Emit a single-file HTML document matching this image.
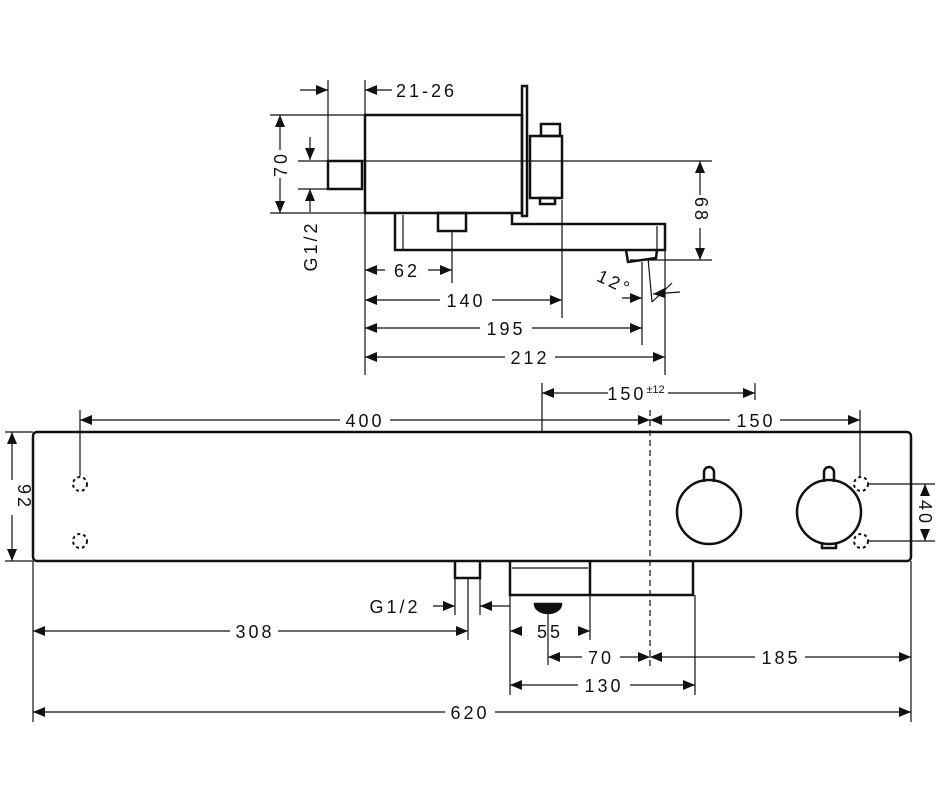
<!DOCTYPE html>
<html><head><meta charset="utf-8"><style>
html,body{margin:0;padding:0;background:#fff;}
svg{display:block;}
text{font-family:"Liberation Sans",sans-serif;font-size:18px;fill:#111;letter-spacing:3px;}
</style></head><body>
<svg width="938" height="800" viewBox="0 0 938 800" xmlns="http://www.w3.org/2000/svg">
<defs>
<marker id="a" viewBox="0 0 12 10" refX="12" refY="5" markerWidth="12" markerHeight="10" markerUnits="userSpaceOnUse" orient="auto-start-reverse"><path d="M0,0L12,5L0,10z" fill="#111"/></marker>
</defs>
<g stroke="#111" fill="none">
<g stroke-width="2.5">
<rect x="365" y="115" width="157" height="98"/>
<rect x="522" y="86" width="5" height="130"/>
<rect x="328" y="161" width="34" height="28"/>
<rect x="530" y="136" width="32" height="62"/>
<rect x="541" y="124" width="19" height="12"/>
<rect x="540" y="198" width="15" height="6"/>
<path d="M395,213 V250 H665 V224 H512 V213"/>
<rect x="438" y="213" width="28" height="18"/>
<path d="M626,250 L628,262 L656,258 L657,250"/>
</g>
<g stroke-width="1.2">
<line x1="403" y1="215" x2="403" y2="249"/>
<line x1="657" y1="226" x2="657" y2="249"/>
<line x1="328" y1="80" x2="328" y2="160"/>
<line x1="365" y1="80" x2="365" y2="375"/>
<line x1="270" y1="115" x2="365" y2="115"/>
<line x1="270" y1="213" x2="365" y2="213"/>
<line x1="298" y1="161" x2="712" y2="161"/>
<line x1="298" y1="189" x2="328" y2="189"/>
<line x1="630" y1="260" x2="712" y2="260"/>
<line x1="452" y1="231" x2="452" y2="283"/>
<line x1="562" y1="200" x2="562" y2="318"/>
<line x1="642" y1="262" x2="642" y2="345"/>
<line x1="665" y1="250" x2="665" y2="375"/>
<line x1="648" y1="258" x2="652" y2="302"/>
<line x1="652" y1="302" x2="672" y2="283"/>
<line x1="300" y1="90" x2="328" y2="90" marker-end="url(#a)"/>
<line x1="392" y1="90" x2="365" y2="90" marker-end="url(#a)"/>
<line x1="280" y1="150" x2="280" y2="115" marker-end="url(#a)"/>
<line x1="280" y1="178" x2="280" y2="213" marker-end="url(#a)"/>
<line x1="310" y1="137" x2="310" y2="160" marker-end="url(#a)"/>
<line x1="310" y1="212" x2="310" y2="189" marker-end="url(#a)"/>
<line x1="700" y1="195" x2="700" y2="161" marker-end="url(#a)"/>
<line x1="700" y1="228" x2="700" y2="260" marker-end="url(#a)"/>
<line x1="365" y1="270" x2="385" y2="270" marker-start="url(#a)"/>
<line x1="428" y1="270" x2="452" y2="270" marker-end="url(#a)"/>
<line x1="365" y1="300" x2="440" y2="300" marker-start="url(#a)"/>
<line x1="492" y1="300" x2="562" y2="300" marker-end="url(#a)"/>
<line x1="365" y1="328" x2="480" y2="328" marker-start="url(#a)"/>
<line x1="532" y1="328" x2="642" y2="328" marker-end="url(#a)"/>
<line x1="365" y1="357" x2="505" y2="357" marker-start="url(#a)"/>
<line x1="555" y1="357" x2="665" y2="357" marker-end="url(#a)"/>
<line x1="622" y1="298" x2="642" y2="298" marker-end="url(#a)"/>
<line x1="680" y1="292" x2="653" y2="294" marker-end="url(#a)"/>
</g>
<g stroke-width="2.5">
<rect x="33" y="432" width="878" height="129" rx="4"/>
<circle cx="709" cy="512" r="32"/>
<circle cx="829" cy="512" r="32"/>
<path d="M704,482 V472 a5,5 0 0 1 10,0 V482"/>
<path d="M824,482 V472 a5,5 0 0 1 10,0 V482"/>
<path d="M822,542 V548 H836 V542"/>
<path d="M455,562 V578 H480 V562"/>
<path d="M510,562 V595 H693 V562"/>
<line x1="590" y1="562" x2="590" y2="595"/>
<path d="M535,604 a13,9 0 0 0 26,0 Z" fill="#111"/>
</g>
<g stroke-width="2" stroke-dasharray="3 3">
<circle cx="80" cy="484" r="7"/><circle cx="80" cy="541" r="7"/>
<circle cx="861" cy="484" r="7"/><circle cx="861" cy="541" r="7"/>
</g>
<g stroke-width="1.2">
<line x1="512" y1="568" x2="588" y2="568"/>
<line x1="650" y1="410" x2="650" y2="668" stroke-dasharray="6 4"/>
<line x1="80" y1="410" x2="80" y2="476"/>
<line x1="860" y1="410" x2="860" y2="476"/>
<line x1="542" y1="383" x2="542" y2="432"/>
<line x1="755" y1="383" x2="755" y2="400"/>
<line x1="5" y1="432" x2="33" y2="432"/>
<line x1="5" y1="561" x2="33" y2="561"/>
<line x1="869" y1="484" x2="935" y2="484"/>
<line x1="869" y1="541" x2="935" y2="541"/>
<line x1="33" y1="561" x2="33" y2="722"/>
<line x1="911" y1="561" x2="911" y2="722"/>
<line x1="455" y1="578" x2="455" y2="615"/>
<line x1="468" y1="578" x2="468" y2="640"/>
<line x1="480" y1="578" x2="480" y2="615"/>
<line x1="510" y1="595" x2="510" y2="695"/>
<line x1="590" y1="595" x2="590" y2="640"/>
<line x1="548" y1="612" x2="548" y2="665"/>
<line x1="695" y1="595" x2="695" y2="695"/>
<line x1="80" y1="420" x2="340" y2="420" marker-start="url(#a)"/>
<line x1="390" y1="420" x2="650" y2="420" marker-end="url(#a)"/>
<line x1="542" y1="393" x2="608" y2="393" marker-start="url(#a)"/>
<line x1="668" y1="393" x2="755" y2="393" marker-end="url(#a)"/>
<line x1="650" y1="420" x2="730" y2="420" marker-start="url(#a)"/>
<line x1="780" y1="420" x2="860" y2="420" marker-end="url(#a)"/>
<line x1="12" y1="480" x2="12" y2="432" marker-end="url(#a)"/>
<line x1="12" y1="515" x2="12" y2="561" marker-end="url(#a)"/>
<line x1="925" y1="496" x2="925" y2="484" marker-end="url(#a)"/>
<line x1="925" y1="530" x2="925" y2="541" marker-end="url(#a)"/>
<line x1="433" y1="606" x2="455" y2="606" marker-end="url(#a)"/>
<line x1="510" y1="606" x2="480" y2="606" marker-end="url(#a)"/>
<line x1="33" y1="631" x2="230" y2="631" marker-start="url(#a)"/>
<line x1="278" y1="631" x2="468" y2="631" marker-end="url(#a)"/>
<line x1="510" y1="631" x2="522" y2="631" marker-start="url(#a)"/>
<line x1="578" y1="631" x2="590" y2="631" marker-end="url(#a)"/>
<line x1="548" y1="657" x2="582" y2="657" marker-start="url(#a)"/>
<line x1="620" y1="657" x2="650" y2="657" marker-end="url(#a)"/>
<line x1="650" y1="657" x2="755" y2="657" marker-start="url(#a)"/>
<line x1="805" y1="657" x2="911" y2="657" marker-end="url(#a)"/>
<line x1="510" y1="685" x2="578" y2="685" marker-start="url(#a)"/>
<line x1="630" y1="685" x2="695" y2="685" marker-end="url(#a)"/>
<line x1="33" y1="712" x2="445" y2="712" marker-start="url(#a)"/>
<line x1="495" y1="712" x2="911" y2="712" marker-end="url(#a)"/>
</g>
</g>
<text x="396" y="97">21-26</text>
<text x="0" y="0" transform="translate(287,164) rotate(-90)" text-anchor="middle">70</text>
<text x="0" y="0" transform="translate(317,246) rotate(-90)" text-anchor="middle">G1/2</text>
<text x="0" y="0" transform="translate(695,210) rotate(90)" text-anchor="middle">68</text>
<text x="407" y="277" text-anchor="middle">62</text>
<text x="466" y="307" text-anchor="middle">140</text>
<text x="506" y="335" text-anchor="middle">195</text>
<text x="530" y="364" text-anchor="middle">212</text>
<text x="0" y="0" transform="translate(612,288) rotate(25)" text-anchor="middle">12°</text>
<text x="365" y="427" text-anchor="middle">400</text>
<text x="636" y="400" text-anchor="middle">150<tspan font-size="11" dy="-7" letter-spacing="0">±12</tspan></text>
<text x="756" y="427" text-anchor="middle">150</text>
<text x="0" y="0" transform="translate(18,497) rotate(90)" text-anchor="middle">92</text>
<text x="0" y="0" transform="translate(919,513) rotate(90)" text-anchor="middle">40</text>
<text x="395" y="613" text-anchor="middle">G1/2</text>
<text x="255" y="638" text-anchor="middle">308</text>
<text x="550" y="638" text-anchor="middle">55</text>
<text x="601" y="664" text-anchor="middle">70</text>
<text x="781" y="664" text-anchor="middle">185</text>
<text x="604" y="692" text-anchor="middle">130</text>
<text x="470" y="719" text-anchor="middle">620</text>
</svg>
</body></html>
